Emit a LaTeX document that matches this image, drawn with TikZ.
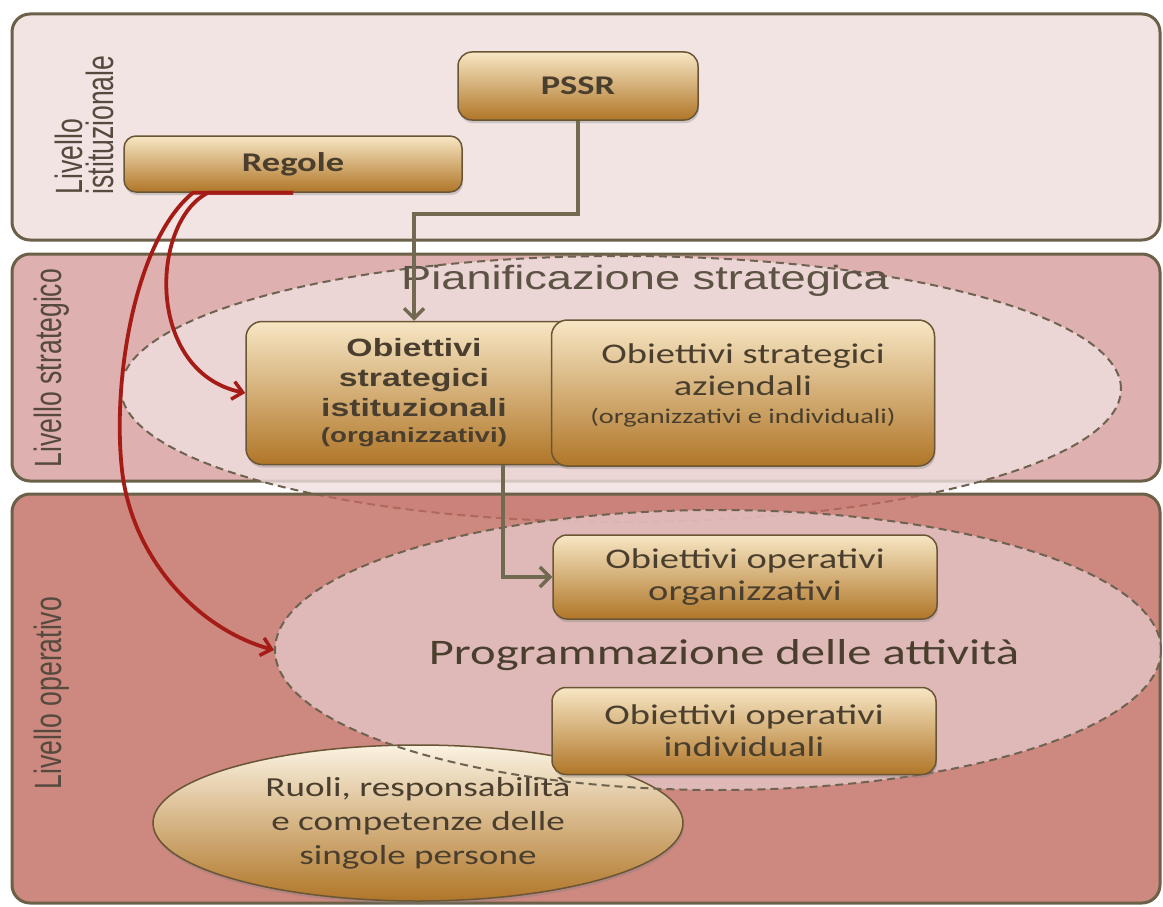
\documentclass[tikz,border=0pt]{standalone}
\usepackage{fontspec}
\setmainfont{Carlito}[FakeStretch=1.35]
\newfontfamily\wideArial{Liberation Sans}[FakeStretch=1.35]
\newfontfamily\narrowArial{Liberation Sans}[FakeStretch=0.70]
\usetikzlibrary{shapes.geometric,arrows.meta,shadows}
\definecolor{bandA}{HTML}{F3E4E4}
\definecolor{bandB}{HTML}{DFB0B0}
\definecolor{bandC}{HTML}{C06A60}
\definecolor{bordo}{HTML}{6B6048}
\definecolor{areaA}{HTML}{F0DFDF}
\definecolor{areaB}{HTML}{E3C2C2}
\definecolor{tratteggio}{HTML}{6E6250}
\definecolor{orotop}{HTML}{F7E6C4}
\definecolor{oromid}{HTML}{D9A862}
\definecolor{orobot}{HTML}{B07628}
\definecolor{oroedge}{HTML}{6A5535}
\definecolor{testo}{HTML}{4A3F2E}
\definecolor{titolo}{HTML}{5C5344}
\definecolor{etichetta}{HTML}{56493E}
\definecolor{oliva}{HTML}{726A50}
\definecolor{rosso}{HTML}{A51C16}
\begin{document}
\begin{tikzpicture}[x=1pt,y=-1pt,
  fascia/.style={draw=bordo,line width=3pt,rounded corners=18pt},
  oro/.style={rectangle,rounded corners=16pt,draw=oroedge,line width=1.5pt,
    top color=orotop,middle color=oromid,bottom color=orobot,text=testo,
    align=center,inner sep=0pt,
    drop shadow={opacity=0.35,shadow xshift=1pt,shadow yshift=-3pt}},
  tratto/.style={draw=tratteggio,dash pattern=on 8pt off 5pt,line width=2pt},
  area/.style={ellipse,tratto,inner sep=0pt},
  livtxt/.style={rotate=90,text=etichetta,align=left,
    font=\narrowArial\fontsize{38}{31}\selectfont},
  freccia/.style={draw=oliva,line width=4.5pt,
    -{Straight Barb[length=10pt,width=20pt,line width=3.5pt]}},
  rossa/.style={draw=rosso,line width=3.8pt,
    -{Straight Barb[length=10pt,width=18pt,line width=3.5pt]}},
]
\useasboundingbox (0,0) rectangle (1163,907);
  \newcommand{\fascia}[3]{
    \draw[fascia,fill=#1] (12,#2) rectangle (1160,#3);
  }

  \fascia{bandA}{14}{240}
  \fascia{bandB}{254}{481}
  \node[area,fill=areaA,fill opacity=0.8,minimum width=1000pt,minimum height=266pt] (pian) at (621,389) {};
  \fascia{bandC,fill opacity=0.8}{494}{903}

  \node[area,draw=none,fill=areaB,fill opacity=0.85,minimum width=886pt,minimum height=280pt] (prog) at (718,650) {};
  \node[ellipse,draw=oroedge,line width=1.5pt,top color=orotop!50!white,middle color=oromid,bottom color=orobot,
    minimum width=530pt,minimum height=156pt,inner sep=0pt,text=testo,align=center,
    font=\fontsize{27.5}{34}\selectfont,
    drop shadow={opacity=0.35,shadow xshift=1pt,shadow yshift=-3pt}] (ruoli) at (418,823)
    {Ruoli, responsabilità\\e competenze delle\\singole persone};
  \draw[tratto] (prog.center) ellipse [x radius=443, y radius=140];

  \node[text=titolo,font=\wideArial\fontsize{33.5}{36}\selectfont] (piantit) at (645,281) {Pianificazione strategica};
  \node[text=testo,font=\fontsize{36}{38}\selectfont] (progtit) at (724,655) {Programmazione delle attività};

  \node[oro,minimum width=336pt,minimum height=143pt,font=\wideArial\bfseries\fontsize{25}{30}\selectfont] (ossi) at (414,393)
    {Obiettivi\\strategici\\istituzionali\\[-4pt]{\fontsize{20.5}{24}\selectfont(organizzativi)}};
  \node[oro,minimum width=383pt,minimum height=146pt,font=\fontsize{28.5}{32}\selectfont] (osa) at (743,393)
    {Obiettivi strategici\\aziendali\\[-4pt]{\fontsize{21}{24}\selectfont(organizzativi e individuali)}\\[-14pt]\mbox{}};
  \node[oro,rounded corners=14pt,minimum width=384pt,minimum height=84pt,font=\fontsize{28.5}{32}\selectfont] (ooo) at (745,577)
    {Obiettivi operativi\\organizzativi};
  \node[oro,rounded corners=14pt,minimum width=384pt,minimum height=87pt,font=\fontsize{28.5}{32}\selectfont] (ooi) at (744,731)
    {Obiettivi operativi\\individuali};
  \node[oro,rounded corners=14pt,minimum width=240pt,minimum height=68pt,font=\bfseries\fontsize{27}{30}\selectfont] (pssr) at (578,86) {PSSR};
  \node[oro,rounded corners=12pt,minimum width=338pt,minimum height=56pt,font=\bfseries\fontsize{27}{30}\selectfont] (regole) at (293,164) {Regole};

  \node[livtxt] (livist) at (84,125) {Livello\\istituzionale};
  \node[livtxt] (livstr) at (52,368) {Livello strategico};
  \node[livtxt] (livope) at (52,693) {Livello operativo};

  \draw[freccia] (pssr.south) -- ++(0,93) -| (ossi.north);
  \draw[freccia] ([xshift=89pt]ossi.south) |- (ooo.west);

  \draw[rossa] (regole.south) -- ++(-85,0) .. controls (150,222) and (145,372) .. (ossi.west);
  \draw[rossa] (regole.south) -- ++(-100,0) .. controls (135,240) and (112,380) .. (122,470)
    .. controls (132,560) and (200,630) .. (prog.west);
\end{tikzpicture}
\end{document}
